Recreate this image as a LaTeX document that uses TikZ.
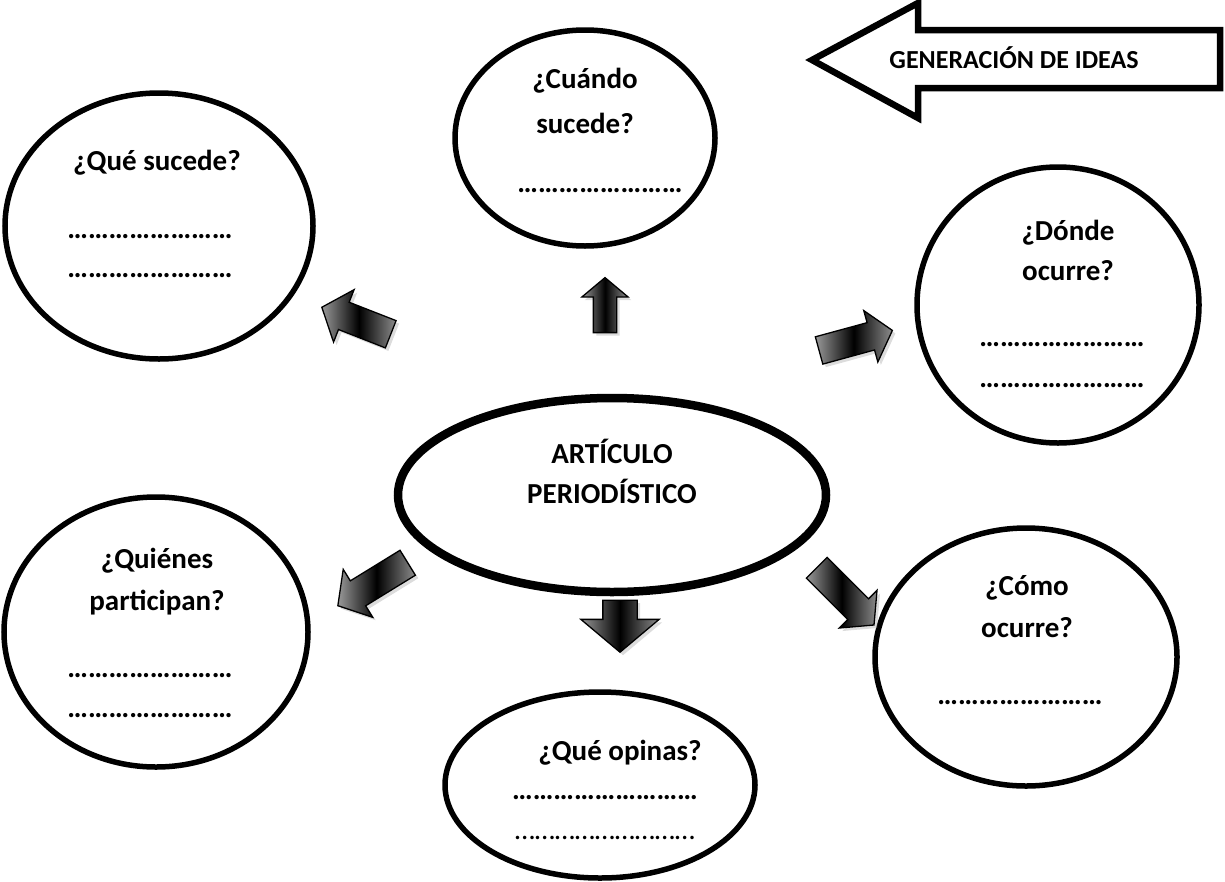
\documentclass[tikz,border=0pt]{standalone}
\usepackage{fontspec}
\setmainfont{Carlito}
\usetikzlibrary{shapes.geometric,shapes.arrows,shadows,positioning}

\newcommand{\puntos}{……………………}
\newcommand{\puntosl}{………………………}

\begin{document}
\begin{tikzpicture}[x=1pt, y=-1pt,
   bubble/.style={ellipse, draw=black, line width=5.5pt, inner sep=0pt},
   lbl/.style={font=\bfseries\fontsize{29}{34}\selectfont, anchor=base, inner sep=0pt},
   blockarr/.style={single arrow, draw=black, line width=1.3pt, inner xsep=0pt,
      single arrow tip angle=100, single arrow head indent=0pt,
      left color=gray!80, right color=gray!90, middle color=black,
      drop shadow={shadow xshift=3pt, shadow yshift=-3pt, fill=gray!55}}]
   \useasboundingbox (0,0) rectangle (1225,881);

   %ellipses
   \node[bubble, minimum width=308pt, minimum height=266pt] (sucede) at (159,226) {};
   \node[bubble, minimum width=260pt, minimum height=216pt] (cuando) at (585,138) {};
   \node[bubble, minimum width=282pt, minimum height=276pt] (donde) at (1058,305) {};
   \node[bubble, line width=8.5pt, minimum width=428pt, minimum height=194pt] (articulo) at (612,495) {};
   \node[bubble, minimum width=304pt, minimum height=270pt] (quienes) at (156,632) {};
   \node[bubble, minimum width=302pt, minimum height=258pt] (como) at (1026,657) {};
   \node[bubble, minimum width=310pt, minimum height=186pt] (opinas) at (600,785) {};

   %texts
   \node[lbl] (t1) at (157,170) {¿Qué sucede?};
   \node[lbl] (d1a) at (150,238) {\puntos};
   \node[lbl] (d1b) at (150,277) {\puntos};

   \node[lbl] (t2a) at (585,88) {¿Cuándo};
   \node[lbl] (t2b) at (585,133) {sucede?};
   \node[lbl] (d2) at (600,192) {\puntos};

   \node[lbl] (t3a) at (1068,240) {¿Dónde};
   \node[lbl] (t3b) at (1068,280) {ocurre?};
   \node[lbl] (d3a) at (1062,346) {\puntos};
   \node[lbl] (d3b) at (1062,387) {\puntos};

   \node[lbl] (t4a) at (612,463) {ARTÍCULO};
   \node[lbl] (t4b) at (612,503) {PERIODÍSTICO};

   \node[lbl] (t5a) at (157,568) {¿Quiénes};
   \node[lbl] (t5b) at (157,610) {participan?};
   \node[lbl] (d5a) at (150,677) {\puntos};
   \node[lbl] (d5b) at (150,717) {\puntos};

   \node[lbl] (t6a) at (1027,595) {¿Cómo};
   \node[lbl] (t6b) at (1027,637) {ocurre?};
   \node[lbl] (d6) at (1020,704) {\puntos};

   \node[lbl] (t7) at (620,760) {¿Qué opinas?};
   \node[lbl] (d7a) at (605,799) {\puntosl};
   \node[lbl, font=\fontsize{29}{34}\selectfont] (d7b) at (605,839) {\puntosl};

   %block arrows
   \node[blockarr, rotate=158.6, minimum height=74pt, inner ysep=14pt, single arrow head extend=13.5pt] (asucede) at (362,323) {};
   \node[blockarr, rotate=90, minimum height=55pt, inner ysep=11pt, single arrow head extend=11.5pt] (acuando) at (605,310) {};
   \node[blockarr, rotate=15.3, minimum height=76pt, inner ysep=13.5pt, single arrow head extend=12.5pt] (adonde) at (850,342) {};
   \node[blockarr, rotate=211.6, minimum height=82pt, inner ysep=14pt, single arrow head extend=13.5pt] (aquienes) at (378,581) {};
   \node[blockarr, rotate=-90, minimum height=52pt, inner ysep=16.5pt, single arrow head extend=22pt] (aopinas) at (620,619) {};
   \node[blockarr, rotate=-45, minimum height=81pt, inner ysep=14pt, single arrow head extend=12pt] (acomo) at (841,592) {};

   %generacion de ideas
   \draw[line width=6.5pt, line join=miter] (812,60) -- (918,3) -- (918,30) -- (1220,30)
      -- (1220,88) -- (918,88) -- (918,118) -- cycle;
   \node[lbl, font=\bfseries\fontsize{26}{30}\selectfont] (ideas) at (1014,68) {GENERACIÓN DE IDEAS};
\end{tikzpicture}
\end{document}
